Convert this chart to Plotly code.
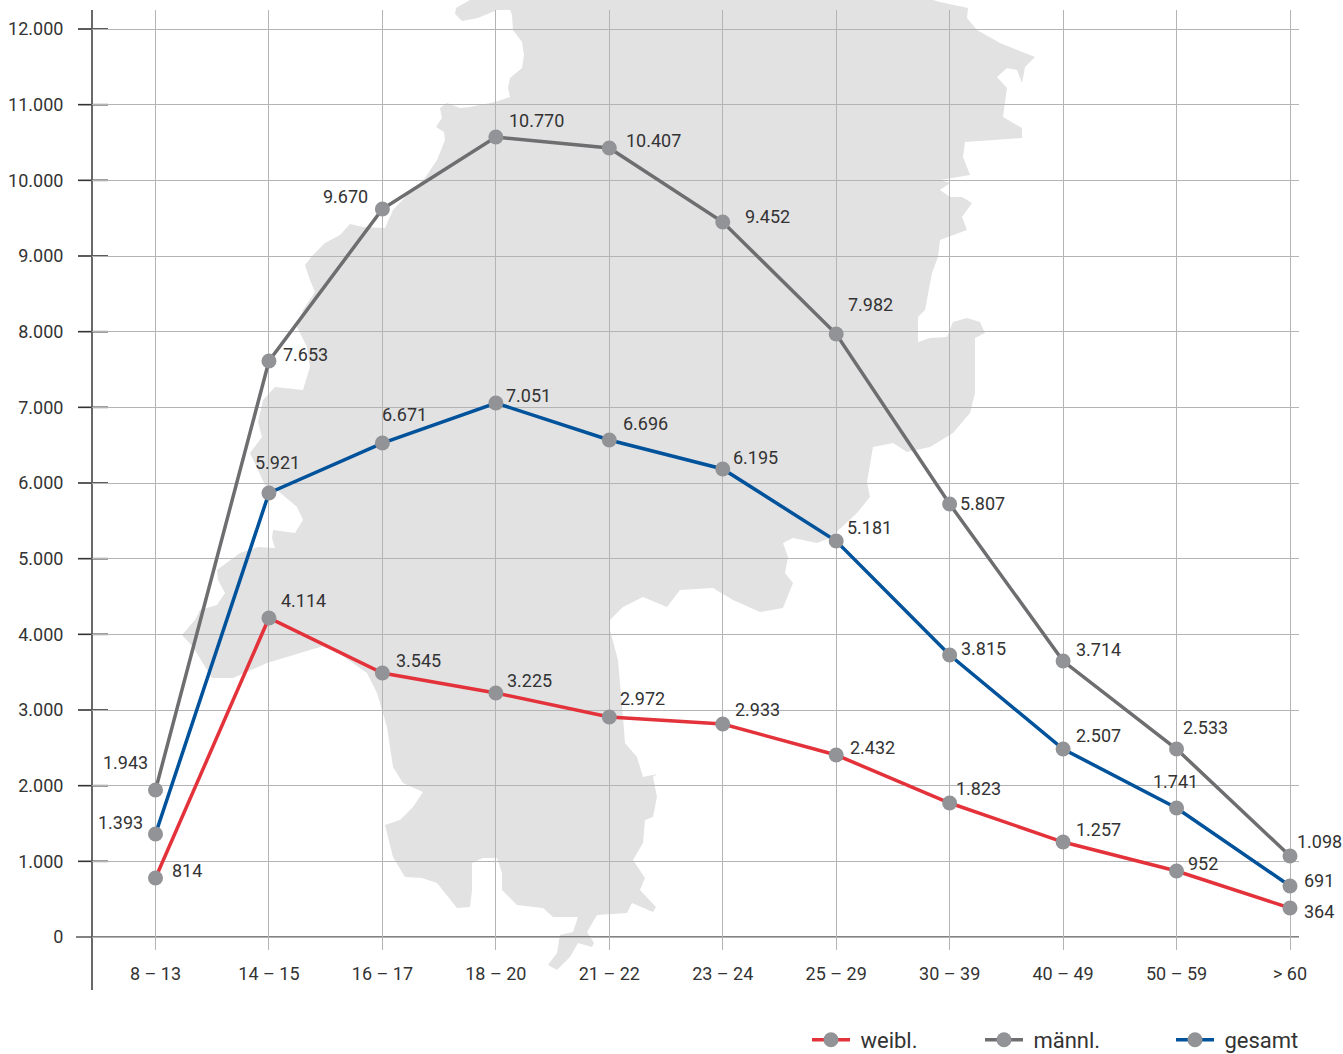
import plotly.graph_objects as go

W, H = 1343, 1054
categories = ["8 – 13","14 – 15","16 – 17","18 – 20","21 – 22","23 – 24","25 – 29","30 – 39","40 – 49","50 – 59","> 60"]
y_ticks = [0,1000,2000,3000,4000,5000,6000,7000,8000,9000,10000,11000,12000]
y_labels = ["0","1.000","2.000","3.000","4.000","5.000","6.000","7.000","8.000","9.000","10.000","11.000","12.000"]

maennl = [1943,7612,9621,10572,10427,9449,7969,5722,3647,2484,1070]
gesamt = [1361,5868,6528,7057,6568,6185,5233,3727,2484,1705,674]
weibl = [780,4216,3489,3225,2907,2815,2405,1771,1255,872,383]

maennl_text = ["1.943","7.653","9.670","10.770","10.407","9.452","7.982","5.807","3.714","2.533","1.098"]
gesamt_text = ["1.393","5.921","6.671","7.051","6.696","6.195","5.181","3.815","2.507","1.741","691"]
weibl_text = ["814","4.114","3.545","3.225","2.972","2.933","2.432","1.823","1.257","952","364"]

maennl_off = [(-30,27),(37,7),(-37,13),(41,17),(44,8),(45,6),(34,30),(33,1),(35,12),(29,22),(29,15)]
gesamt_off = [(-35,12),(9,30),(22,29),(33,8),(36,17),(33,12),(33,14),(34,6),(35,14),(-1,26),(29,6)]
weibl_off = [(31,7),(35,17),(36,13),(34,12),(33,19),(35,15),(36,8),(29,14),(35,13),(26,8),(29,-3)]

# decorative background silhouette, traced in picture pixels
map_outline = [(470,0),(456,8),(455,14),(462,21),(478,18),(497,10),(510,10),(512,15),(513,30),(522,42),(524,55),(522,68),(510,78),(508,88),(510,97),(495,102),(470,107),(460,108),(447,103),(440,108),(442,118),(436,127),(444,132),(445,140),(437,160),(425,178),(410,192),(393,210),(385,228),(363,227),(350,224),(340,235),(325,243),(313,255),(305,265),(310,280),(315,292),(303,310),(297,327),(307,347),(310,367),(303,390),(275,387),(263,400),(258,422),(262,437),(250,453),(265,485),(277,490),(297,507),(303,520),(295,533),(273,530),(272,538),(275,548),(258,547),(240,553),(217,570),(218,580),(225,593),(217,605),(200,610),(195,620),(182,635),(193,647),(212,678),(233,678),(267,663),(310,650),(327,645),(367,673),(377,693),(387,727),(393,767),(403,783),(423,792),(413,807),(400,820),(385,825),(393,857),(405,877),(422,878),(437,883),(457,908),(470,907),(472,890),(472,863),(483,858),(497,858),(502,873),(502,890),(517,905),(543,908),(553,917),(578,917),(573,932),(560,935),(557,953),(548,965),(557,970),(570,957),(578,943),(592,947),(594,943),(587,932),(597,915),(627,913),(632,903),(653,912),(656,907),(640,890),(645,878),(633,860),(643,843),(645,820),(653,817),(657,797),(653,777),(657,774),(643,777),(637,757),(625,743),(623,717),(618,660),(610,630),(610,620),(623,607),(643,597),(667,607),(680,590),(713,588),(733,600),(760,612),(783,608),(793,583),(785,573),(788,557),(783,543),(793,538),(817,543),(830,538),(857,513),(870,497),(867,482),(873,447),(893,443),(907,452),(930,447),(953,433),(970,413),(975,393),(975,338),(985,333),(980,322),(967,318),(953,322),(947,337),(930,338),(918,342),(918,317),(925,310),(932,273),(938,257),(940,240),(967,230),(962,217),(972,203),(962,197),(950,197),(940,190),(950,183),(940,180),(970,175),(963,157),(965,142),(1022,138),(1022,128),(1003,117),(1007,88),(997,77),(1007,68),(1017,70),(1022,83),(1025,67),(1035,57),(1000,43),(977,30),(967,18),(968,8),(940,2),(933,0)]

FONT = "Roboto"
TXT = "#333333"
GRID = "#b4b4b6"
AX = "#58585a"
L, R, T, B = 92, 1299, 10, 950
PXPER = 908/12000
x_range = [(L-155.5)/113.45, (R-155.5)/113.45]
y_range = [(937-B)/PXPER, (937-T)/PXPER]
xs = list(range(len(categories)))

def px(x): return (x-L)/(R-L)
def py(y): return (B-y)/(B-T)

fig = go.Figure()
series = [("\u00a0weibl.", weibl, "#e4323b", "legend"), ("\u00a0männl.", maennl, "#6e6e70", "legend2"), ("\u00a0gesamt", gesamt, "#00529b", "legend3")]
for name, vals, col, lg in series:
    fig.add_trace(go.Scatter(x=xs, y=vals, mode="lines+markers", name=name, legend=lg,
        line=dict(color=col, width=3.5), marker=dict(color="#929396", size=15, line=dict(width=0)),
        cliponaxis=False, showlegend=True))

ann = []
for vals, txts, offs in [(maennl,maennl_text,maennl_off),(gesamt,gesamt_text,gesamt_off),(weibl,weibl_text,weibl_off)]:
    for i,(v,t,o) in enumerate(zip(vals,txts,offs)):
        ann.append(dict(x=i,y=v,text=t,showarrow=False,xshift=o[0],yshift=o[1],font=dict(family=FONT,size=18,color=TXT)))

shapes = [dict(type="path", xref="paper", yref="paper", layer="below", line=dict(width=0), fillcolor="#e2e2e3",
    path="M"+"L".join(f"{px(a):.5f},{py(b):.5f}" for a,b in map_outline)+"Z")]
for t in y_ticks[1:]:
    shapes.append(dict(type="line", xref="paper", yref="y", x0=px(78), x1=px(108), y0=t, y1=t, line=dict(color="#333333", width=1.6), layer="between"))
shapes.append(dict(type="line", xref="paper", yref="y", x0=px(76), x1=1, y0=0, y1=0, line=dict(color=AX, width=1.6), layer="between"))
shapes.append(dict(type="line", xref="x domain", yref="paper", x0=0, x1=0, y0=py(990), y1=1, line=dict(color=AX, width=1.8), layer="between"))

layout_legends = {}
for key, xpx in [("legend",807),("legend2",980),("legend3",1171)]:
    layout_legends[key] = dict(x=px(xpx), y=py(1040), xanchor="left", yanchor="middle", orientation="h",
        bgcolor="rgba(0,0,0,0)", itemwidth=38, font=dict(family=FONT, size=22, color=TXT), borderwidth=0)

fig.update_layout(width=W, height=H, autosize=False, paper_bgcolor="white", plot_bgcolor="rgba(0,0,0,0)",
    margin=dict(l=L, r=W-R, t=T, b=H-B, autoexpand=False), annotations=ann, shapes=shapes, showlegend=True, hovermode=False,
    xaxis=dict(range=x_range, tickmode="array", tickvals=xs, ticktext=categories, showgrid=True, gridcolor=GRID, gridwidth=1,
        zeroline=False, showline=False, ticks="outside", ticklen=7, tickcolor="rgba(0,0,0,0)", tickfont=dict(family=FONT,size=18,color=TXT)),
    yaxis=dict(range=y_range, tickmode="array", tickvals=y_ticks, ticktext=y_labels, showgrid=True, gridcolor=GRID, gridwidth=1,
        zeroline=False, showline=False, ticks="outside", ticklen=24, tickcolor="rgba(0,0,0,0)", tickfont=dict(family=FONT,size=18,color=TXT)),
    **layout_legends)
fig.write_html("out.html", config={"displayModeBar": False}, post_script="document.body.style.margin='0';document.documentElement.style.overflow='hidden';")
